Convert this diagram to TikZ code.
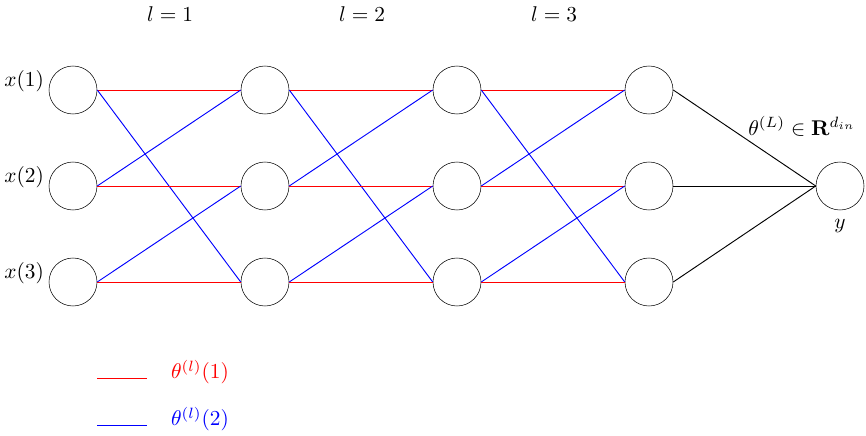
\documentclass[tikz,border=0pt]{standalone}
\usepackage{amsmath}
\usepackage{amssymb}
\usetikzlibrary{calc,positioning}
\tikzset{neuron/.style={draw,circle,minimum size=36pt,inner sep=0pt,line width=0.4pt},
 redw/.style={red,line width=0.7pt},bluew/.style={blue,line width=0.7pt}}
\begin{document}
\begin{tikzpicture}[x=0.75pt,y=-0.75pt]
\useasboundingbox (0,0) rectangle (866,435);
\foreach \c/\x in {1/73,2/265,3/457,4/649}{
\foreach \r/\y in {1/90,2/186,3/282}{
\node[neuron] (n\c\r) at (\x,\y){};}}
\node[neuron] (out) at (840,186){};
\foreach \r in {1,2,3}{
\node[left=-2pt of n1\r.west,yshift=7pt,scale=1.6] (in\r) {$x(\r)$};}
\foreach \c/\d/\x in {1/2/170,2/3/362,3/4/554}{
\node[scale=1.6] (lab\c) at (\x,14){$l=\c$};
\foreach \r/\s in {1/3,2/1,3/2}{
\draw[redw](n\c\r.east)--(n\d\r.west);
\draw[bluew](n\c\r.east)--(n\d\s.west);}}
\foreach \r in {1,2,3}{\draw[line width=0.7pt](n4\r.east)--(out.west);}
\node[scale=1.6] (theta) at (802,126){$\theta^{(L)}\in\mathbf{R}^{d_{in}}$};
\node[below=1pt of out,scale=1.6] (yout) {$y$};
\coordinate (ra) at (97,378); \coordinate (rb) at (147,378);
\coordinate (ba) at (97,425); \coordinate (bb) at (147,425);
\draw[redw](ra)--(rb); \draw[bluew](ba)--(bb);
\node[red,scale=1.6] (legr) at (200,372){$\theta^{(l)}(1)$};
\node[blue,scale=1.6] (legb) at (200,419){$\theta^{(l)}(2)$};
\end{tikzpicture}
\end{document}
